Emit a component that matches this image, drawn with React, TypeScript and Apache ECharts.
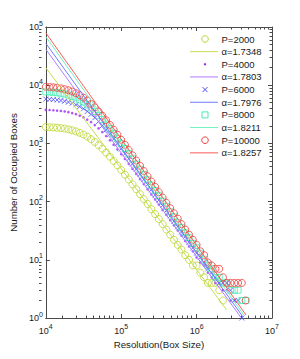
import React, { useEffect, useRef } from 'react';
import * as echarts from 'echarts';

// Box sizes (resolution) shared by all series
const resolution = [
  10000, 11220, 12589, 14125, 15849, 17783, 19953, 22387, 25119, 28184,
  31623, 35481, 39811, 44668, 50119, 56234, 63096, 70795, 79433, 89125,
  100000, 112202, 125893, 141254, 158489, 177828, 199526, 223872, 251189, 281838,
  316228, 354813, 398107, 446684, 501187, 562341, 630957, 707946, 794328, 891251,
  1000000, 1122018, 1258925, 1412538, 1584893, 1778279, 1995262, 2238721, 2511886, 2818383,
  3162278, 3548134, 3981072, 4466836,
];

const countsP2000 = [
  1910, 1897, 1879, 1858, 1828, 1791, 1742, 1683, 1607, 1517,
  1419, 1306, 1180, 1057, 931, 811, 695, 592, 500, 419,
  349, 290, 240, 198, 163, 134, 110, 91, 74, 61,
  50, 41, 33, 27, 22, 18, 15, 12, 10, 8,
  8, 6, 5, 4, 4, 4, 3, 2,
];
const countsP4000 = [
  3767, 3741, 3707, 3664, 3606, 3540, 3443, 3319, 3177, 2992,
  2793, 2564, 2317, 2065, 1811, 1567, 1337, 1132, 948, 791,
  655, 541, 445, 365, 299, 244, 200, 163, 133, 109,
  89, 72, 59, 48, 39, 32, 26, 21, 17, 14,
  11, 9, 8, 6, 5, 4, 4, 3, 3, 2, 2,
];
const countsP6000 = [
  5781, 5728, 5662, 5572, 5470, 5309, 5129, 4898, 4613, 4295,
  3936, 3548, 3155, 2754, 2382, 2028, 1710, 1432, 1189, 982,
  807, 662, 543, 444, 362, 295, 240, 196, 160, 130,
  106, 86, 70, 57, 46, 37, 30, 25, 20, 16,
  13, 11, 9, 7, 6, 5, 4, 4, 4, 3, 2, 2, 1,
];
const countsP8000 = [
  7709, 7638, 7534, 7413, 7244, 7047, 6776, 6457, 6053, 5598,
  5117, 4581, 4046, 3524, 3020, 2559, 2143, 1786, 1479, 1216,
  998, 817, 665, 542, 442, 359, 292, 237, 192, 156,
  126, 102, 83, 67, 55, 44, 36, 29, 24, 19,
  16, 13, 10, 8, 7, 5, 5, 4, 4, 3, 3, 3, 2, 2,
];
const countsP10000 = [
  9397, 9311, 9183, 9016, 8810, 8531, 8204, 7780, 7278, 6714,
  6095, 5445, 4786, 4150, 3548, 2992, 2500, 2080, 1718, 1413,
  1153, 942, 769, 624, 507, 412, 335, 272, 221, 179,
  145, 117, 95, 77, 63, 51, 41, 33, 27, 22,
  18, 14, 12, 9, 8, 7, 7, 5, 4, 4, 4, 4, 4, 2,
];

const pLabels = ['P=2000', 'P=4000', 'P=6000', 'P=8000', 'P=10000'];
const alphas = [1.7348, 1.7803, 1.7976, 1.8211, 1.8257];
// fitted power law: value at the smallest resolution and the last resolution of the fit line
const fitAtMin = [2.0e4, 4.14e4, 5.25e4, 6.81e4, 7.94e4];
const fitEndRes = [2.5e6, 3.84e6, 4.13e6, 4.22e6, 4.52e6];

const xTickExps = [4, 5, 6, 7];
const yTickExps = [0, 1, 2, 3, 4, 5];

const allCounts = [countsP2000, countsP4000, countsP6000, countsP8000, countsP10000];
const markerKinds = ['circle', 'dot', 'cross', 'square', 'circle'];
const markerColors = ['#bcd62e', '#9a2cf0', '#4646ff', '#45eeb0', '#f23a3a'];
const lineColors = ['#c6dc52', '#b07cff', '#6f7cff', '#6ff3c0', '#ff5a5a'];

const FONT = '"Liberation Sans", Arial, Helvetica, sans-serif';
const AXIS_COLOR = '#4a4a4a';
const TEXT_COLOR = '#1a1a1a';

function minorValues(exps: number[]) {
  const out: number[] = [];
  for (let i = 0; i < exps.length - 1; i++) {
    const d = Math.pow(10, exps[i]);
    for (let k = 2; k <= 9; k++) out.push(d * k);
  }
  return out;
}

const expLabel = (v: number) => `{b|10}{s|${Math.round(Math.log10(v))}}`;
const labelRich = {
  b: { fontSize: 9, fontFamily: FONT, color: TEXT_COLOR, lineHeight: 15 },
  s: { fontSize: 7, fontFamily: FONT, color: TEXT_COLOR, lineHeight: 6, verticalAlign: 'top' },
};

function symbolFor(kind: string, color: string) {
  if (kind === 'circle') return { symbol: 'circle', symbolSize: 7, itemStyle: { color: 'rgba(0,0,0,0)', borderColor: color, borderWidth: 1 } };
  if (kind === 'dot') return { symbol: 'circle', symbolSize: 2.6, itemStyle: { color, borderWidth: 0 } };
  if (kind === 'cross') return { symbol: 'path://M0 0L10 10M10 0L0 10', symbolSize: 5, itemStyle: { color: 'rgba(0,0,0,0)', borderColor: color, borderWidth: 1 } };
  return { symbol: 'rect', symbolSize: 6, itemStyle: { color: 'rgba(0,0,0,0)', borderColor: color, borderWidth: 1 } };
}

function legendMarker(kind: string, color: string, x: number, y: number): any {
  if (kind === 'circle') return { type: 'circle', shape: { cx: x, cy: y, r: 3.3 }, style: { fill: 'none', stroke: color, lineWidth: 1 } };
  if (kind === 'dot') return { type: 'circle', shape: { cx: x, cy: y, r: 1.2 }, style: { fill: color } };
  if (kind === 'cross') return {
    type: 'group', children: [
      { type: 'line', shape: { x1: x - 2.5, y1: y - 2.5, x2: x + 2.5, y2: y + 2.5 }, style: { stroke: color, lineWidth: 1 } },
      { type: 'line', shape: { x1: x + 2.5, y1: y - 2.5, x2: x - 2.5, y2: y + 2.5 }, style: { stroke: color, lineWidth: 1 } },
    ],
  };
  return { type: 'rect', shape: { x: x - 3, y: y - 3, width: 6, height: 6 }, style: { fill: 'none', stroke: color, lineWidth: 1 } };
}

export default function App() {
  const ref = useRef<HTMLDivElement>(null);
  useEffect(() => {
    document.body.style.margin = '0';
    if (!ref.current) return;
    const chart = echarts.init(ref.current, undefined, { renderer: 'svg' });

    const xMin = Math.pow(10, xTickExps[0]);
    const xMax = Math.pow(10, xTickExps[xTickExps.length - 1]);
    const yMin = Math.pow(10, yTickExps[0]);
    const yMax = Math.pow(10, yTickExps[yTickExps.length - 1]);
    const xMinor = minorValues(xTickExps);
    const yMinor = minorValues(yTickExps);

    const grid = { left: 39, right: 28, top: 27, bottom: 41 };
    const baseAxis = { type: 'log', logBase: 10, splitLine: { show: false } };
    const majorLine = { show: true, onZero: false, lineStyle: { color: AXIS_COLOR, width: 1 } };
    const majorTick = { show: true, inside: true, length: 4, lineStyle: { color: AXIS_COLOR, width: 1 } };
    const minorTick = { show: true, inside: true, length: 2.5, lineStyle: { color: AXIS_COLOR, width: 1 } };

    const series: any[] = [];
    allCounts.forEach((counts, i) => {
      series.push({
        type: 'scatter',
        name: pLabels[i],
        xAxisIndex: 0,
        yAxisIndex: 0,
        data: counts.map((c, j) => [resolution[j], c]),
        ...symbolFor(markerKinds[i], markerColors[i]),
      });
      const y0 = fitAtMin[i];
      const y1 = y0 * Math.pow(fitEndRes[i] / resolution[0], -alphas[i]);
      series.push({
        type: 'line',
        name: 'α=' + alphas[i].toFixed(4),
        xAxisIndex: 0,
        yAxisIndex: 0,
        showSymbol: false,
        symbol: 'none',
        lineStyle: { color: lineColors[i], width: 1 },
        data: [[resolution[0], y0], [fitEndRes[i], y1]],
      });
    });

    const legendEls: any[] = [];
    const legTop = 39;
    const legStep = 12.65;
    pLabels.forEach((lab, i) => {
      const ya = legTop + 2 * i * legStep;
      const yb = ya + legStep;
      legendEls.push(legendMarker(markerKinds[i], markerColors[i], 205, ya));
      legendEls.push({ type: 'text', x: 221.5, y: ya, style: { text: lab, fontSize: 9.5, fontFamily: FONT, fill: TEXT_COLOR, align: 'left', verticalAlign: 'middle' } });
      legendEls.push({ type: 'line', shape: { x1: 190, y1: yb, x2: 218, y2: yb }, style: { stroke: lineColors[i], lineWidth: 1 } });
      legendEls.push({ type: 'text', x: 221.5, y: yb, style: { text: 'α=' + alphas[i].toFixed(4), fontSize: 9.5, fontFamily: FONT, fill: TEXT_COLOR, align: 'left', verticalAlign: 'middle' } });
    });

    chart.setOption({
      animation: false,
      backgroundColor: '#ffffff',
      grid: [{ ...grid }, { ...grid }],
      xAxis: [
        {
          ...baseAxis, gridIndex: 0, position: 'bottom', min: xMin, max: xMax,
          axisLine: majorLine, axisTick: majorTick,
          axisLabel: { margin: 5, formatter: expLabel, rich: labelRich },
          name: 'Resolution(Box Size)', nameLocation: 'middle', nameGap: 19,
          nameTextStyle: { fontSize: 9.7, fontFamily: FONT, color: TEXT_COLOR, verticalAlign: 'top' },
        },
        {
          ...baseAxis, gridIndex: 0, position: 'top', min: xMin, max: xMax,
          axisLine: majorLine, axisTick: majorTick, axisLabel: { show: false },
        },
        {
          ...baseAxis, gridIndex: 1, position: 'bottom', min: xMin, max: xMax,
          axisLine: { show: false }, axisTick: { ...minorTick, customValues: xMinor }, axisLabel: { show: false },
        },
        {
          ...baseAxis, gridIndex: 1, position: 'top', min: xMin, max: xMax,
          axisLine: { show: false }, axisTick: { ...minorTick, customValues: xMinor }, axisLabel: { show: false },
        },
      ],
      yAxis: [
        {
          ...baseAxis, gridIndex: 0, position: 'left', min: yMin, max: yMax,
          axisLine: majorLine, axisTick: majorTick,
          axisLabel: { margin: 3, formatter: expLabel, rich: labelRich },
          name: 'Number of Occupied Boxes', nameLocation: 'middle', nameGap: 22.5, nameRotate: 90,
          nameTextStyle: { fontSize: 9.7, fontFamily: FONT, color: TEXT_COLOR },
        },
        {
          ...baseAxis, gridIndex: 0, position: 'right', min: yMin, max: yMax,
          axisLine: majorLine, axisTick: majorTick, axisLabel: { show: false },
        },
        {
          ...baseAxis, gridIndex: 1, position: 'left', min: yMin, max: yMax,
          axisLine: { show: false }, axisTick: { ...minorTick, customValues: yMinor }, axisLabel: { show: false },
        },
        {
          ...baseAxis, gridIndex: 1, position: 'right', min: yMin, max: yMax,
          axisLine: { show: false }, axisTick: { ...minorTick, customValues: yMinor }, axisLabel: { show: false },
        },
      ],
      series,
      graphic: legendEls,
    });
    return () => chart.dispose();
  }, []);
  return <div ref={ref} style={{ width: 300, height: 359 }} />;
}
